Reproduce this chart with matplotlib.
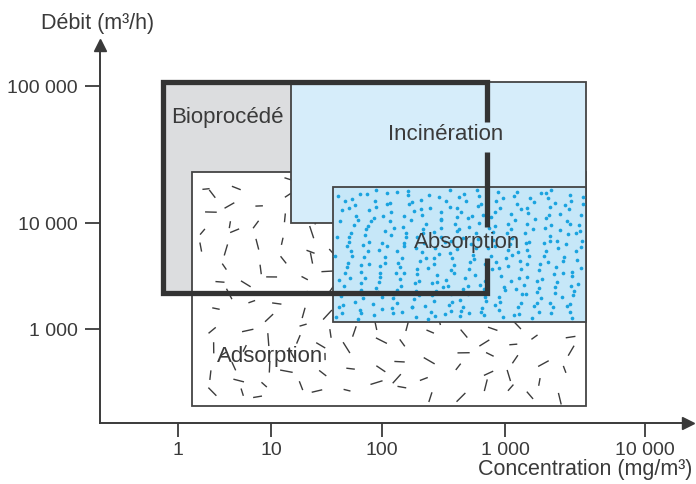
import numpy as np
import matplotlib.pyplot as plt
from matplotlib.collections import LineCollection
from matplotlib.patches import Rectangle

plt.rcParams['font.family'] = ['Liberation Sans', 'DejaVu Sans']

# Graduations
x_ticks = [1, 10, 100, 1000, 10000]
x_tick_labels = ["1", "10", "100", "1 000", "10 000"]
y_ticks = [1000, 10000, 100000]
y_tick_labels = ["1 000", "10 000", "100 000"]

# Domaines : [conc. min, conc. max, débit min, débit max]
bioprocede = [0.69, 710, 2190, 107000]
incineration = [15, 3800, 10000, 107000]
absorption = [36, 3800, 1165, 18300]
adsorption = [1.41, 3800, 188, 23500]
# interruptions du bord droit du cadre "Bioprocédé" (débit)
gaps = [(33000, 54600), (4670, 9170)]

noms = ["Bioprocédé", "Incinération", "Absorption", "Adsorption"]
noms_x = [3.4, 330, 490, 9.8]
noms_y = [59000, 44000, 6500, 545]

# Echelle log "dessinée à la main" : les décades n'ont pas toutes la même longueur
xk = np.array([-3, 0, 1, 2, 3, 4, 7])
xp = np.array([-279, 0, 93, 204, 327, 467, 887.0])
yk = np.array([0, 3, 4, 5, 8])
yp = np.array([-318, 0, 106, 243, 654.0])


def fx(v):
    return np.interp(np.log10(np.clip(v, 1e-12, None)), xk, xp)


def ix(p):
    return 10 ** np.interp(p, xp, xk)


def fy(v):
    return np.interp(np.log10(np.clip(v, 1e-12, None)), yk, yp)


def iy(p):
    return 10 ** np.interp(p, yp, yk)


def texture(k, a, b):
    # suite quasi-uniforme + petite perturbation (décor seulement)
    base = (0.5 + k * a) % 1
    bruit = (np.sin(k * b) * 43758.5453) % 1
    return (base + 0.03 * (bruit - 0.5)) % 1


trait = '#3a3a3a'

fig = plt.figure(figsize=(6.96, 4.84), dpi=100)
ax = fig.add_axes([100 / 696, 61 / 484, 588 / 696, 378 / 484])
ax.set_xscale('function', functions=(fx, ix))
ax.set_yscale('function', functions=(fy, iy))
xlim = (ix(-78), ix(510))
ylim = (iy(-94), iy(284))
ax.set_xlim(xlim)
ax.set_ylim(ylim)


def to_axes(x, y):
    ax_x = (fx(x) - fx(xlim[0])) / (fx(xlim[1]) - fx(xlim[0]))
    ax_y = (fy(y) - fy(ylim[0])) / (fy(ylim[1]) - fy(ylim[0]))
    return ax_x, ax_y


def rect(zone, fc, z):
    x0, x1, y0, y1 = zone
    ax.add_patch(Rectangle((x0, y0), x1 - x0, y1 - y0, facecolor=fc,
                           edgecolor='#444444', lw=1.3, zorder=z))


# fond gris bioprocédé
rect(bioprocede, '#dcdddf', 1)
# adsorption (blanc + tirets)
rect(adsorption, 'white', 2)

n = np.arange(1, 175)
u = texture(n, 0.7548776662, 12.9898)
v = texture(n, 0.5698402910, 78.233)
ang = ((n * 0.6180339887) % 1) * np.pi
lng = 7 + ((n * 0.4142135) % 1) * 6
a0x, a0y = to_axes(adsorption[0], adsorption[2])
a1x, a1y = to_axes(adsorption[1], adsorption[3])
cx = a0x + (0.02 + 0.96 * u) * (a1x - a0x)
cy = a0y + (0.03 + 0.94 * v) * (a1y - a0y)
dx = lng / 2 * np.cos(ang) / 588
dy = lng / 2 * np.sin(ang) / 378
segs = [[(cx[i] - dx[i], cy[i] - dy[i]), (cx[i] + dx[i], cy[i] + dy[i])] for i in range(len(n))]
ax.add_collection(LineCollection(segs, colors='#3c3c3c', linewidths=1.0,
                                 transform=ax.transAxes, zorder=3))

# incinération
rect(incineration, '#d6edfa', 4)
# absorption + points
rect(absorption, '#c6e7f8', 5)
m = np.arange(1, 360)
u = texture(m, 0.7548776662, 39.346)
v = texture(m, 0.5698402910, 11.135)
b0x, b0y = to_axes(absorption[0], absorption[2])
b1x, b1y = to_axes(absorption[1], absorption[3])
ax.scatter(b0x + (0.01 + 0.98 * u) * (b1x - b0x), b0y + (0.02 + 0.96 * v) * (b1y - b0y),
           s=7, color='#1aa3df', lw=0, transform=ax.transAxes, zorder=6)

# cadre épais bioprocédé
bx0, bx1, by0, by1 = bioprocede
ax.plot([bx1, bx1, bx0, bx0, bx1, bx1], [gaps[0][1], by1, by1, by0, by0, gaps[1][0]],
        color='#333333', lw=3.8, solid_joinstyle='miter', solid_capstyle='butt', zorder=7)
ax.plot([bx1, bx1], [gaps[1][1], gaps[0][0]], color='#333333', lw=3.8,
        solid_capstyle='butt', zorder=7)

for t, x, y in zip(noms, noms_x, noms_y):
    ax.text(x, y, t, fontsize=16, color=trait, ha='center', va='center', zorder=10)

# axes avec flèches
for s in ['top', 'right']:
    ax.spines[s].set_visible(False)
for s in ['left', 'bottom']:
    ax.spines[s].set_color(trait)
    ax.spines[s].set_linewidth(1.4)
ax.plot(1, 0, '>', ms=9, color=trait, transform=ax.transAxes, clip_on=False)
ax.plot(0, 1, '^', ms=9, color=trait, transform=ax.transAxes, clip_on=False)

ax.set_xticks(x_ticks)
ax.set_xticklabels(x_tick_labels)
ax.set_yticks(y_ticks)
ax.set_yticklabels(y_tick_labels)
ax.minorticks_off()
ax.tick_params(axis='x', length=10, width=1.3, color=trait, labelsize=14,
               labelcolor=trait, pad=4)
ax.tick_params(axis='y', length=11, width=1.3, color=trait, labelsize=14,
               labelcolor=trait, pad=5)

fig.text(98 / 696, 1 - 24 / 484, "Débit (m³/h)", fontsize=15.5, color=trait,
         ha='center', va='center')
fig.text(692 / 696, 1 - 470 / 484, "Concentration (mg/m³)", fontsize=15.5, color=trait,
         ha='right', va='center')

fig.savefig("out.png", dpi=100)
